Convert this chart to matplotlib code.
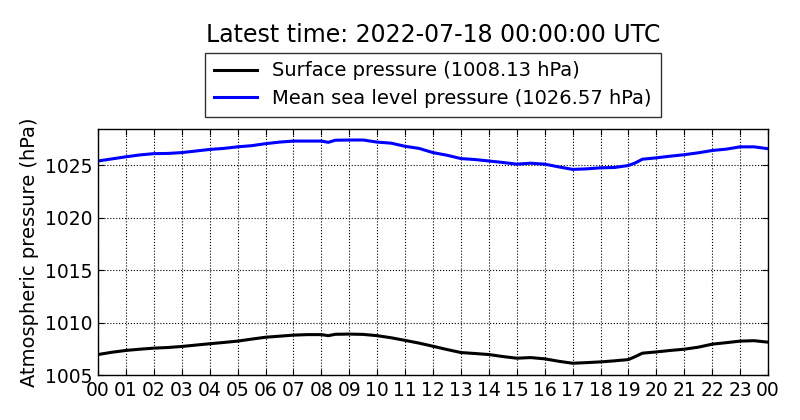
import matplotlib
matplotlib.use("Agg")
import matplotlib.pyplot as plt

hours = [0, 0.5, 1, 1.5, 2, 2.5, 3, 3.5, 4, 4.5, 5, 5.5, 6, 6.5, 7, 7.5, 8, 8.25, 8.5, 9, 9.5,
         10, 10.5, 11, 11.5, 12, 12.5, 13, 13.5, 14, 14.5, 15, 15.5, 16, 16.5, 17, 17.5,
         18, 18.5, 19, 19.25, 19.5, 20, 20.5, 21, 21.5, 22, 22.5, 23, 23.5, 24]

msl = [1025.40, 1025.60, 1025.80, 1025.98, 1026.10, 1026.12, 1026.20, 1026.35, 1026.50, 1026.60,
       1026.75, 1026.86, 1027.05, 1027.20, 1027.30, 1027.30, 1027.30, 1027.18, 1027.38, 1027.40,
       1027.40, 1027.20, 1027.10, 1026.80, 1026.60, 1026.20, 1025.95, 1025.63, 1025.54, 1025.40,
       1025.26, 1025.10, 1025.19, 1025.10, 1024.84, 1024.60, 1024.65, 1024.75, 1024.78, 1024.97,
       1025.22, 1025.57, 1025.70, 1025.86, 1026.00, 1026.18, 1026.40, 1026.53, 1026.75, 1026.75,
       1026.57]

surface = [1006.95, 1007.17, 1007.34, 1007.46, 1007.56, 1007.62, 1007.72, 1007.85, 1007.98, 1008.10,
           1008.23, 1008.42, 1008.60, 1008.70, 1008.80, 1008.85, 1008.85, 1008.75, 1008.88, 1008.90,
           1008.87, 1008.75, 1008.55, 1008.30, 1008.04, 1007.74, 1007.43, 1007.14, 1007.05, 1006.95,
           1006.76, 1006.60, 1006.66, 1006.54, 1006.31, 1006.12, 1006.18, 1006.25, 1006.35, 1006.47,
           1006.76, 1007.08, 1007.20, 1007.34, 1007.46, 1007.65, 1007.94, 1008.08, 1008.23, 1008.27,
           1008.13]

tick_positions = list(range(0, 25))
tick_labels = ["%02d" % (h % 24) for h in range(0, 25)]
y_ticks = [1005, 1010, 1015, 1020, 1025]

title = "Latest time: 2022-07-18 00:00:00 UTC"
label_surface = "Surface pressure (1008.13 hPa)"
label_msl = "Mean sea level pressure (1026.57 hPa)"

fig = plt.figure(figsize=(8, 4.2), dpi=100, facecolor="white")
ax = fig.add_axes([98/800, 1-375/420, (768-98)/800, (375-129)/420])

l1, = ax.plot(hours, surface, color="black", lw=2.2, label=label_surface)
l2, = ax.plot(hours, msl, color="blue", lw=2.2, label=label_msl)

ax.set_xlim(0, 24)
ax.set_ylim(1005, 1028.45)
ax.set_xticks(tick_positions)
ax.set_xticklabels(tick_labels)
ax.set_yticks(y_ticks)
ax.tick_params(direction="in", top=True, right=True, labelsize=13.5, length=4, pad=4)
ax.grid(True, color="black", linestyle=":", linewidth=0.8)
ax.set_ylabel("Atmospheric pressure (hPa)", fontsize=14, labelpad=4)
for s in ax.spines.values():
    s.set_linewidth(1)

leg = fig.legend(handles=[l1, l2], loc="lower center",
                 bbox_to_anchor=(433/800, 1-117/420), fontsize=14,
                 frameon=True, fancybox=False, edgecolor="black",
                 handlelength=2.2, borderpad=0.45, labelspacing=0.45,
                 borderaxespad=0)
leg.get_frame().set_linewidth(1)

fig.text(433/800, 1-35/420, title, ha="center", va="center", fontsize=17)

fig.savefig("out.png", dpi=100, facecolor="white")
